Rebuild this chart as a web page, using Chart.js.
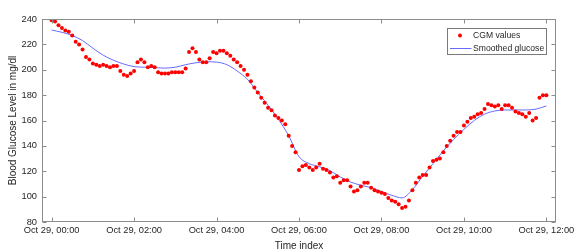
<!DOCTYPE html>
<html>
<head>
<meta charset="utf-8">
<title>CGM values</title>
<script src="https://cdn.jsdelivr.net/npm/chart.js@4.4.1/dist/chart.umd.min.js"></script>
<style>
    html, body { margin: 0; padding: 0; background: #fff; }
    #wrap { position: relative; width: 588px; height: 252px; }
</style>
</head>
<body>
<div id="wrap"><canvas id="glucoseChart"></canvas></div>
<script>
// CGM readings, one every 5 minutes from Oct 29 00:00 to 12:00
const stepMinutes = 5;
const cgmValues = [
    239, 238, 235, 233, 231, 230, 227, 222, 220, 216, 210, 208, 205, 204, 203, 204,
    203, 202, 203, 203, 199, 196, 195, 197, 199, 206, 208, 206, 202, 203, 202, 198,
    197, 197, 197, 198, 198, 198, 198, 201, 214, 217, 214, 208, 206, 206, 209, 214,
    213, 215, 215, 213, 211, 208, 206, 203, 200, 196, 191, 186, 182, 178, 174, 170,
    168, 164, 162, 160, 157, 148, 140, 135, 121, 124, 125, 123, 121, 123, 126, 122,
    121, 119, 115, 116, 111, 113, 113, 108, 104, 105, 108, 111, 111, 107, 105, 104,
    103, 102, 99, 97, 96, 94, 91, 92, 97, 105, 111, 115, 117, 117, 123, 128,
    129, 130, 135, 140, 144, 148, 151, 151, 156, 159, 162, 163, 165, 166, 169, 173,
    172, 171, 172, 169, 172, 172, 170, 167, 166, 165, 163, 166, 160, 162, 178, 180,
    180
];

const smoothMinutes = [
    0, 15, 30, 45, 60, 75, 90, 105, 120, 135, 150, 165, 180, 195, 210, 225, 240,
    255, 270, 285, 300, 315, 330, 345, 360, 375, 390, 405, 420, 435, 450, 465, 480,
    495, 510, 525, 540, 555, 570, 585, 600, 615, 630, 645, 660, 675, 690, 705, 720
];
const smoothValues = [
    231.3, 229.5, 227, 223, 217, 211.5, 207.5, 204.5, 202.5, 202, 201.7, 201.3, 202, 204, 205.5, 206.3, 206,
    204, 199, 192.5, 182, 172, 161, 148, 131.5, 126, 123.5, 120.5, 115.5, 111.5, 109, 107, 104,
    101, 99, 105.5, 116, 126, 136, 145, 153, 160, 165, 167.5, 168.3, 168.3, 168.3, 169, 171.5
];

const tickMinutes = [0, 120, 240, 360, 480, 600, 720];
const tickLabels = ["Oct 29, 00:00", "Oct 29, 02:00", "Oct 29, 04:00", "Oct 29, 06:00",
                    "Oct 29, 08:00", "Oct 29, 10:00", "Oct 29, 12:00"];
const yTicks = [80, 100, 120, 140, 160, 180, 200, 220, 240];

const fontFamily = "'Liberation Sans', Arial, Helvetica, sans-serif";
const axisColor = "#8c8c8c";
const textColor = "#262626";
const dotColor = "#ff0000";
const lineColor = "#6a6aff";

// box round the plot, inward ticks on all four sides, and the legend
const frameTicks = {
    id: "frameTicks",
    afterDraw(chart) {
        const ctx = chart.ctx;
        const a = chart.chartArea;
        const xs = chart.scales.x;
        const ys = chart.scales.y;
        const L = Math.round(a.left) + 0.5, R = Math.round(a.right) - 0.5;
        const T = Math.round(a.top) + 0.5, B = Math.round(a.bottom) - 0.5;
        const len = 4;
        ctx.save();
        ctx.strokeStyle = axisColor;
        ctx.lineWidth = 1;
        ctx.strokeRect(L, T, R - L, B - T);
        ctx.beginPath();
        xs.ticks.forEach(t => {
            const px = Math.round(xs.getPixelForValue(t.value)) + 0.5;
            ctx.moveTo(px, B); ctx.lineTo(px, B - len);
            ctx.moveTo(px, T); ctx.lineTo(px, T + len);
        });
        ys.ticks.forEach(t => {
            const py = Math.round(ys.getPixelForValue(t.value)) + 0.5;
            ctx.moveTo(L, py); ctx.lineTo(L + len, py);
            ctx.moveTo(R, py); ctx.lineTo(R - len, py);
        });
        ctx.stroke();

        // legend box (top right, inside the plot)
        const bx = 447.5, by = 28.5, bw = 99, bh = 26;
        ctx.fillStyle = "#fff";
        ctx.fillRect(bx, by, bw, bh);
        ctx.strokeStyle = "#7a7a7a";
        ctx.strokeRect(bx, by, bw, bh);
        const ds = chart.data.datasets;
        ctx.font = "8.6px " + fontFamily;
        ctx.fillStyle = textColor;
        ctx.textBaseline = "middle";
        ctx.textAlign = "left";
        // dots entry
        ctx.beginPath();
        ctx.arc(460, 35.5, 2, 0, Math.PI * 2);
        ctx.fillStyle = dotColor;
        ctx.fill();
        ctx.fillStyle = textColor;
        ctx.fillText(ds[0].label, 473, 36);
        // line entry
        ctx.beginPath();
        ctx.moveTo(450, 48.5); ctx.lineTo(471.5, 48.5);
        ctx.strokeStyle = lineColor;
        ctx.stroke();
        ctx.fillText(ds[1].label, 473, 48.5);
        ctx.restore();
    }
};

document.addEventListener("DOMContentLoaded", function() {
    const ctx = document.getElementById("glucoseChart").getContext("2d");

    const cgmPoints = cgmValues.map((v, i) => ({ x: i * stepMinutes, y: v }));
    const smoothPoints = smoothValues.map((v, i) => ({ x: smoothMinutes[i], y: v }));

    new Chart(ctx, {
        type: "scatter",
        data: {
            datasets: [{
                label: "CGM values",
                data: cgmPoints,
                backgroundColor: dotColor,
                borderColor: dotColor,
                pointRadius: 2,
                pointBorderWidth: 0,
                showLine: false,
                order: 1
            }, {
                label: "Smoothed glucose",
                data: smoothPoints,
                borderColor: lineColor,
                borderWidth: 1,
                pointRadius: 0,
                showLine: true,
                cubicInterpolationMode: "monotone",
                fill: false,
                order: 2
            }]
        },
        options: {
            responsive: true,
            maintainAspectRatio: false,
            animation: false,
            layout: { padding: { left: 0, right: 32, top: 19, bottom: 0 } },
            plugins: {
                legend: { display: false },
                tooltip: { enabled: false }
            },
            scales: {
                x: {
                    type: "linear",
                    min: -14,
                    max: 734,
                    afterBuildTicks: scale => {
                        scale.ticks = tickMinutes.map(v => ({ value: v }));
                    },
                    afterFit: scale => { scale.height = 30; },
                    grid: { display: false, drawTicks: false },
                    border: { display: false },
                    ticks: {
                        autoSkip: false,
                        maxRotation: 0,
                        padding: 3,
                        color: textColor,
                        font: { family: fontFamily, size: 9.3 },
                        callback: value => tickLabels[tickMinutes.indexOf(value)]
                    },
                    title: {
                        display: true,
                        text: "Time index",
                        color: textColor,
                        font: { family: fontFamily, size: 10, lineHeight: 1.2 },
                        padding: { top: 0, bottom: 0 }
                    }
                },
                y: {
                    min: 80,
                    max: 240,
                    afterBuildTicks: scale => {
                        scale.ticks = yTicks.map(v => ({ value: v }));
                    },
                    afterFit: scale => { scale.width = 42; },
                    grid: { display: false, drawTicks: false },
                    border: { display: false },
                    ticks: {
                        padding: 5,
                        color: textColor,
                        font: { family: fontFamily, size: 9.3 }
                    },
                    title: {
                        display: true,
                        text: "Blood Glucose Level in mg/dl",
                        color: textColor,
                        font: { family: fontFamily, size: 10, lineHeight: 1.2 },
                        padding: { top: 7, bottom: 0 }
                    }
                }
            }
        },
        plugins: [frameTicks]
    });
});
</script>
</body>
</html>
